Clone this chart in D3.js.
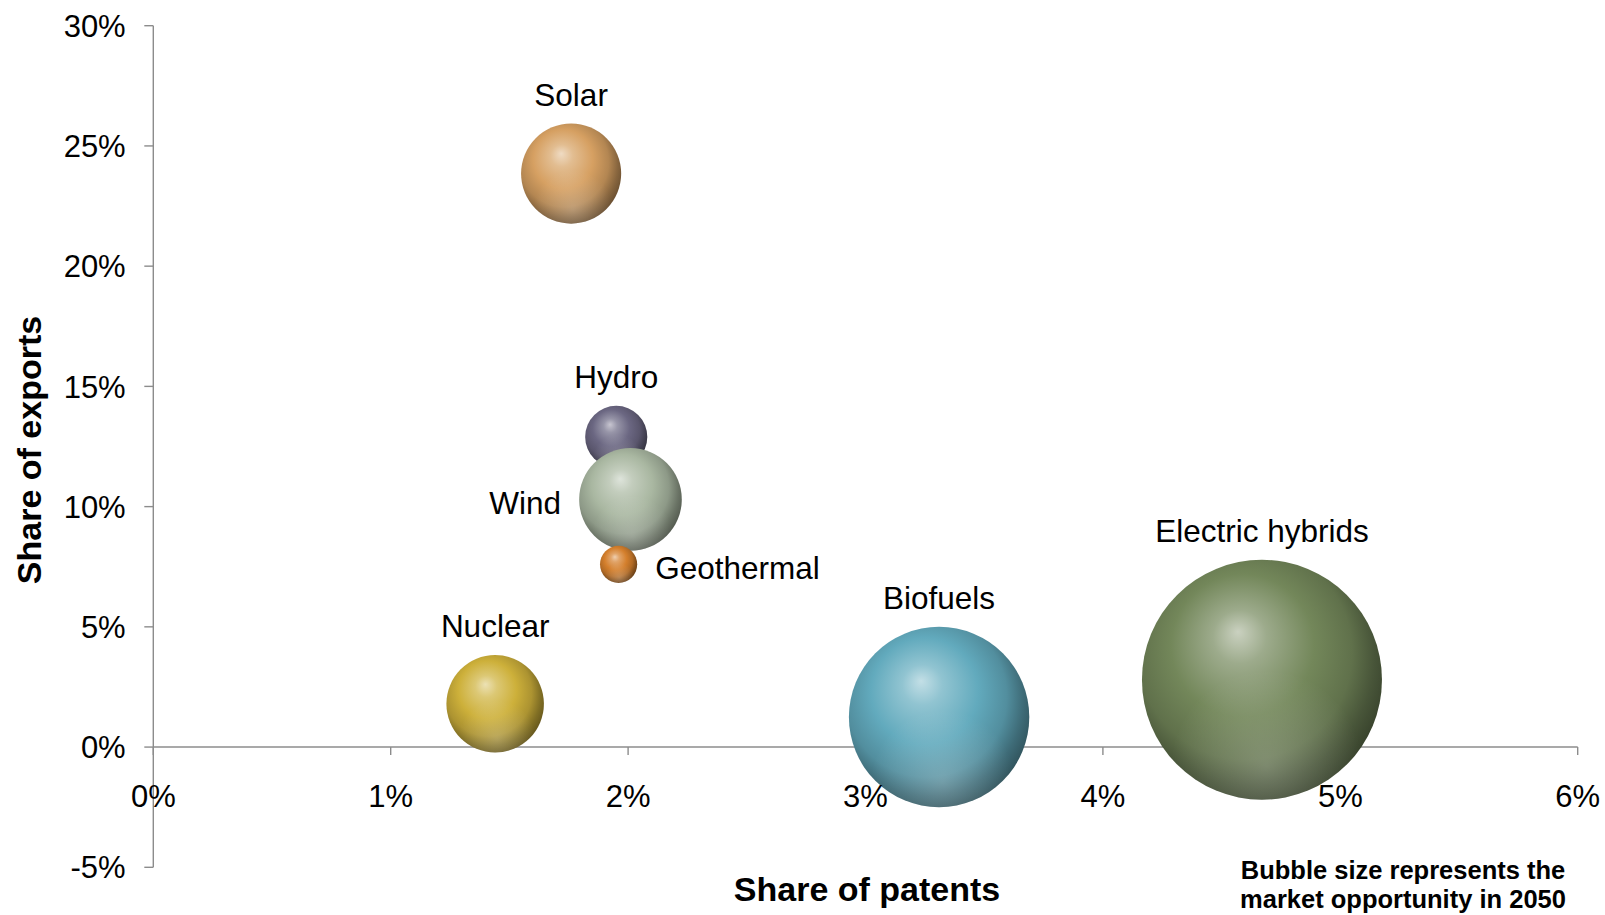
<!DOCTYPE html>
<html>
<head>
<meta charset="utf-8">
<script src="https://cdn.jsdelivr.net/npm/d3@7"></script>
<style>
  html, body { margin: 0; padding: 0; background: #fff; }
  svg { display: block; }
  text { font-family: "Liberation Sans", Arial, Helvetica, sans-serif; fill: #000; }
</style>
</head>
<body>
<svg id="chart" width="1605" height="915"></svg>
<script>
// ---- Data ----
const technologies = ["Solar", "Hydro", "Wind", "Geothermal", "Nuclear", "Biofuels", "Electric hybrids"];
const patentShare  = [1.76, 1.95, 2.01, 1.96, 1.44, 3.31, 4.67];   // % (x)
const exportShare  = [23.85, 12.9, 10.3, 7.6, 1.8, 1.25, 2.8];     // % (y)
const marketSize   = [17.4, 6.7, 18.3, 2.4, 16.5, 56.5, 100];      // relative market opportunity 2050 (bubble area)
const xTicks = [0, 1, 2, 3, 4, 5, 6];
const yTicks = [-5, 0, 5, 10, 15, 20, 25, 30];

// ---- Styling (not data) ----
const baseColors = ["#d6a062", "#6b6782", "#a9b7a1", "#d47f2c", "#cdb03a", "#62aabd", "#73875a"];
const labelSide  = ["top", "top", "left", "right", "top", "top", "top"];

const svg = d3.select("#chart");
const x = d3.scaleLinear().domain([0, 6]).range([153.3, 1577.7]);
const y = d3.scaleLinear().domain([-5, 30]).range([867.3, 25.7]);
const r = d3.scaleSqrt().domain([0, 100]).range([0, 120]);

const axisColor = "#8c8c8c";

// gradients
const defs = svg.append("defs");
baseColors.forEach((c, i) => {
  const base = d3.color(c);
  const hi = d3.interpolateRgb(c, "#ffffff")(0.62);
  const hi2 = d3.interpolateRgb(c, "#ffffff")(0.3);
  const g = defs.append("radialGradient").attr("id", "g" + i)
    .attr("cx", 0.44).attr("cy", 0.42).attr("r", 0.62)
    .attr("fx", 0.4).attr("fy", 0.3);
  g.append("stop").attr("offset", "0%").attr("stop-color", hi);
  g.append("stop").attr("offset", "18%").attr("stop-color", hi2);
  g.append("stop").attr("offset", "48%").attr("stop-color", base.formatHex());
  g.append("stop").attr("offset", "72%").attr("stop-color", base.darker(0.5).formatHex());
  g.append("stop").attr("offset", "86%").attr("stop-color", base.darker(1.3).formatHex());
  g.append("stop").attr("offset", "100%").attr("stop-color", base.darker(2.2).formatHex());
});
const refl = defs.append("radialGradient").attr("id", "refl")
  .attr("cx", 0.52).attr("cy", 0.86).attr("r", 0.4);
refl.append("stop").attr("offset", "0%").attr("stop-color", "#ffffff").attr("stop-opacity", 0.22);
refl.append("stop").attr("offset", "100%").attr("stop-color", "#ffffff").attr("stop-opacity", 0);

// axes lines
const axes = svg.append("g").attr("stroke", axisColor).attr("stroke-width", 1.4).attr("fill", "none");
axes.append("line").attr("x1", x(0)).attr("x2", x(0)).attr("y1", y(30)).attr("y2", y(-5));
axes.append("line").attr("x1", x(0)).attr("x2", x(6)).attr("y1", y(0)).attr("y2", y(0));
axes.selectAll(".yt").data(yTicks).join("line")
  .attr("x1", x(0) - 9).attr("x2", x(0)).attr("y1", d => y(d)).attr("y2", d => y(d));
axes.selectAll(".xt").data(xTicks).join("line")
  .attr("x1", d => x(d)).attr("x2", d => x(d)).attr("y1", y(0)).attr("y2", y(0) + 8);

// bubbles
const data = technologies.map((t, i) => ({
  name: t, px: patentShare[i], ey: exportShare[i], size: marketSize[i], i, side: labelSide[i]
}));
const bub = svg.append("g");
data.forEach(d => {
  bub.append("circle").attr("cx", x(d.px)).attr("cy", y(d.ey)).attr("r", r(d.size))
    .attr("fill", `url(#g${d.i})`);
  bub.append("circle").attr("cx", x(d.px)).attr("cy", y(d.ey)).attr("r", r(d.size))
    .attr("fill", "url(#refl)");
});

// tick labels
const fmt = d => d + "%";
svg.append("g").selectAll("text").data(yTicks).join("text")
  .attr("x", 125.7).attr("y", d => y(d)).attr("dy", "0.36em")
  .attr("text-anchor", "end").attr("font-size", 31).text(fmt);
svg.append("g").selectAll("text").data(xTicks).join("text")
  .attr("x", d => x(d)).attr("y", y(0) + 60)
  .attr("text-anchor", "middle").attr("font-size", 31).text(fmt);

// bubble labels
svg.append("g").selectAll("text").data(data).join("text")
  .attr("font-size", 31.5)
  .attr("x", d => d.side === "top" ? x(d.px) : d.side === "left" ? x(d.px) - r(d.size) - 18 : x(d.px) + r(d.size) + 18)
  .attr("y", d => d.side === "top" ? y(d.ey) - r(d.size) - 29 : y(d.ey) + 3)
  .attr("dy", "0.36em")
  .attr("text-anchor", d => d.side === "top" ? "middle" : d.side === "left" ? "end" : "start")
  .text(d => d.name);

// axis titles
svg.append("text").attr("transform", "translate(41,450) rotate(-90)")
  .attr("text-anchor", "middle").attr("font-size", 34).attr("font-weight", "bold")
  .text("Share of exports");
svg.append("text").attr("x", 867).attr("y", 901)
  .attr("text-anchor", "middle").attr("font-size", 34).attr("font-weight", "bold")
  .text("Share of patents");

// note
const note = svg.append("text").attr("text-anchor", "middle").attr("font-size", 25.5).attr("font-weight", "bold");
note.append("tspan").attr("x", 1403).attr("y", 879).text("Bubble size represents the");
note.append("tspan").attr("x", 1403).attr("y", 908).text("market opportunity in 2050");
</script>
</body>
</html>
